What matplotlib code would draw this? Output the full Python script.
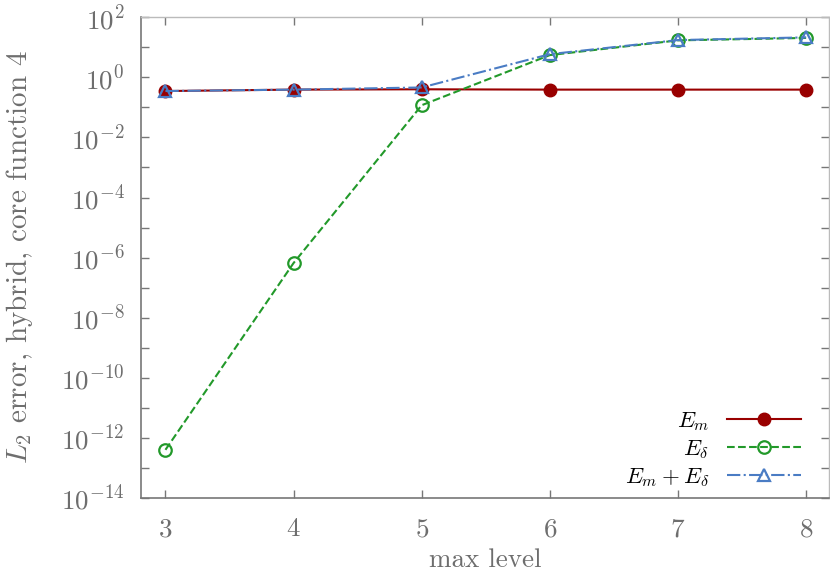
import numpy as np
import matplotlib
matplotlib.use("Agg")
import matplotlib.pyplot as plt

plt.rcParams['font.family'] = 'serif'
plt.rcParams['font.serif'] = ['cmr10', 'DejaVu Serif']
plt.rcParams['mathtext.fontset'] = 'cm'
plt.rcParams['axes.formatter.use_mathtext'] = True

# data
levels = [3, 4, 5, 6, 7, 8]
err_m = [0.35, 0.39, 0.40, 0.39, 0.39, 0.39]
err_delta = [4.0e-13, 6.6e-7, 0.118, 5.5, 17.0, 20.5]
err_sum = [0.35, 0.39, 0.46, 5.9, 17.4, 21.4]

text_gray = '#6e6e6e'
red = '#990000'
green = '#22992a'
blue = '#4a7cc4'

fig = plt.figure(figsize=(8.3, 5.75), dpi=100)
ax = fig.add_axes([0.170, 0.134, 0.829, 0.836])

ax.plot(levels, err_m, '-', color=red, lw=1.5, marker='o', ms=9,
        mfc=red, mec=red, label=r'$E_m$')
ax.plot(levels, err_delta, '--', color=green, lw=1.5, marker='o', ms=9,
        mfc='none', mew=1.6, mec=green, label=r'$E_\delta$')
ax.plot(levels, err_sum, '-.', color=blue, lw=1.5, marker='^', ms=9,
        mfc='none', mew=1.6, mec=blue, label=r'$E_m + E_\delta$')

ax.set_yscale('log')
ax.set_ylim(1e-14, 1e2)
ax.set_xlim(2.81, 8.18)
ax.set_xticks(levels)
ax.set_yticks([10.0**k for k in range(-14, 3, 2)])
ax.yaxis.set_minor_locator(matplotlib.ticker.FixedLocator([10.0**k for k in range(-13, 2, 2)]))
ax.yaxis.set_minor_formatter(matplotlib.ticker.NullFormatter())

ax.tick_params(which='both', direction='in', top=True, right=True,
               colors='#777777', labelcolor=text_gray, labelsize=19.5,
               length=6, width=1.0)
ax.tick_params(axis='x', pad=14)
ax.tick_params(axis='y', pad=12)

for side in ['left', 'bottom']:
    ax.spines[side].set_color('#777777')
    ax.spines[side].set_linewidth(1.2)
for side in ['top', 'right']:
    ax.spines[side].set_color('#bbbbbb')
    ax.spines[side].set_linewidth(1.0)

ax.set_xlabel('max level', color=text_gray, fontsize=19.5, labelpad=5)
ax.set_ylabel(r'$L_2$ error, hybrid, core function 4', color=text_gray,
              fontsize=21, labelpad=19)

leg = ax.legend(loc='lower right', frameon=False, markerfirst=False,
                fontsize=16.5, handlelength=3.2, labelspacing=0.22,
                borderaxespad=0.0, bbox_to_anchor=(0.972, 0.0))

fig.savefig('out.png', dpi=100)
